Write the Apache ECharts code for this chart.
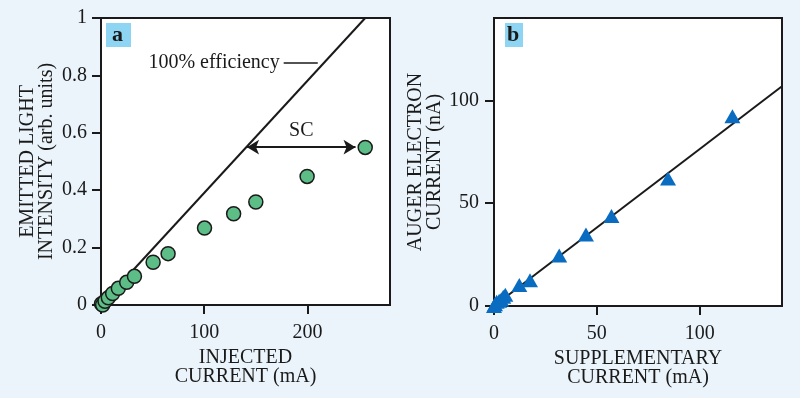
<!DOCTYPE html>
<html>
<head>
<meta charset="utf-8">
<script src="https://cdn.jsdelivr.net/npm/echarts@6/dist/echarts.min.js"></script>
<style>
  html, body { margin: 0; padding: 0; background: #ebf4fb; }
  #chart { width: 800px; height: 398px; }
</style>
</head>
<body>
<div id="chart"></div>
<script>
// panel a: emitted light vs injected current
const injCurrent = [0.5, 1.6, 3.9, 7.1, 11.3, 16.8, 24.9, 32.4, 50.5, 65, 100.3, 128.5, 150, 199.7, 256];
const lightIntensity = [0.004, 0.0, 0.013, 0.025, 0.04, 0.058, 0.079, 0.10, 0.149, 0.179, 0.268, 0.318, 0.359, 0.448, 0.549];
const efficiencyLine = [[0, 0], [256, 1]];
const scArrow = [[141.5, 0.55], [246.6, 0.55]];
const effLeader = [[177, 0.843], [210, 0.843]];

// panel b: auger electron current vs supplementary current
const suppCurrent = [0, 0.5, 1.3, 2.5, 3.5, 4.5, 5.5, 12.3, 17.5, 31.7, 44.7, 57.1, 84.6, 115.9];
const augerCurrent = [0, 0.8, 2.1, 2.5, 3.2, 4.5, 5.5, 10.2, 12.5, 24.5, 34.7, 43.8, 62.0, 92.3];
const fitLine = [[0, 0], [140, 106.8]];

const xTicksA = [0, 100, 200];
const yTicksA = [0, 0.2, 0.4, 0.6, 0.8, 1];
const ticksB = [0, 50, 100];

const serif = '"Liberation Serif", "Times New Roman", serif';
const ink = '#1a1a1a';

function axisBase(min, max, ticks, margin) {
  return {
    type: 'value', min: min, max: max,
    axisLine: { show: true, onZero: false, lineStyle: { color: ink, width: 2 } },
    axisTick: { show: true, inside: false, length: 9, customValues: ticks, lineStyle: { color: ink, width: 2 } },
    axisLabel: { customValues: ticks, margin: margin, color: ink, fontFamily: serif, fontSize: 20 },
    splitLine: { show: false },
    nameTextStyle: { color: ink, fontFamily: serif, fontSize: 20, lineHeight: 19 }
  };
}

const chart = echarts.init(document.getElementById('chart'));

const option = {
  backgroundColor: '#ebf4fb',
  animation: false,
  grid: [
    { left: 101, top: 18, width: 289, height: 287, show: true, backgroundColor: '#ffffff', borderColor: ink, borderWidth: 2 },
    { left: 494, top: 18, width: 288, height: 288, show: true, backgroundColor: '#ffffff', borderColor: ink, borderWidth: 2 }
  ],
  xAxis: [
    Object.assign(axisBase(0, 280, xTicksA, 18), {
      gridIndex: 0, name: 'INJECTED\nCURRENT (mA)', nameLocation: 'middle', nameGap: 40
    }),
    Object.assign(axisBase(0, 140, ticksB, 18), {
      gridIndex: 1, name: 'SUPPLEMENTARY\nCURRENT (mA)', nameLocation: 'middle', nameGap: 40
    })
  ],
  yAxis: [
    Object.assign(axisBase(0, 1, yTicksA, 14), {
      gridIndex: 0, name: 'EMITTED LIGHT\nINTENSITY (arb. units)', nameLocation: 'middle', nameGap: 45
    }),
    Object.assign(axisBase(0, 140, ticksB, 15), {
      gridIndex: 1, name: 'AUGER ELECTRON\nCURRENT (nA)', nameLocation: 'middle', nameGap: 44
    })
  ],
  series: [
    {
      type: 'line', xAxisIndex: 0, yAxisIndex: 0,
      data: efficiencyLine, symbol: 'none',
      lineStyle: { color: ink, width: 2 },
      markLine: {
        silent: true,
        symbol: ['arrow', 'arrow'],
        symbolSize: [11, 12],
        lineStyle: { color: ink, width: 2, type: 'solid' },
        label: { show: true, position: 'middle', formatter: 'SC', color: ink, fontFamily: serif, fontSize: 20, distance: 6 },
        data: [
          [{ coord: scArrow[0] }, { coord: scArrow[1] }],
          [
            {
              coord: effLeader[0], symbol: 'none',
              lineStyle: { width: 1.5 },
              label: { position: 'start', formatter: '100% efficiency', distance: 4, color: ink, fontFamily: serif, fontSize: 20 }
            },
            { coord: effLeader[1], symbol: 'none' }
          ]
        ]
      },
      z: 2
    },
    {
      type: 'scatter', xAxisIndex: 0, yAxisIndex: 0,
      data: injCurrent.map((x, i) => [x, lightIntensity[i]]),
      symbol: 'circle', symbolSize: 14,
      itemStyle: { color: '#5cbd86', borderColor: ink, borderWidth: 1.5, opacity: 1 },
      z: 3
    },
    {
      type: 'line', xAxisIndex: 1, yAxisIndex: 1,
      data: fitLine, symbol: 'none',
      lineStyle: { color: ink, width: 2 },
      z: 2
    },
    {
      type: 'scatter', xAxisIndex: 1, yAxisIndex: 1,
      data: suppCurrent.map((x, i) => [x, augerCurrent[i]]),
      symbol: 'triangle', symbolSize: [16, 14],
      itemStyle: { color: '#0a6cc0', opacity: 1 },
      z: 3
    }
  ],
  graphic: [
    { type: 'rect', left: 106, top: 23, shape: { width: 25, height: 24 }, style: { fill: '#8ed4f3' } },
    { type: 'text', left: 112, top: 24, style: { text: 'a', font: 'bold 22px ' + serif, fill: ink } },
    { type: 'rect', left: 505, top: 23, shape: { width: 18, height: 24 }, style: { fill: '#8ed4f3' } },
    { type: 'text', left: 507, top: 24, style: { text: 'b', font: 'bold 22px ' + serif, fill: ink } }
  ]
};

chart.setOption(option);
</script>
</body>
</html>
